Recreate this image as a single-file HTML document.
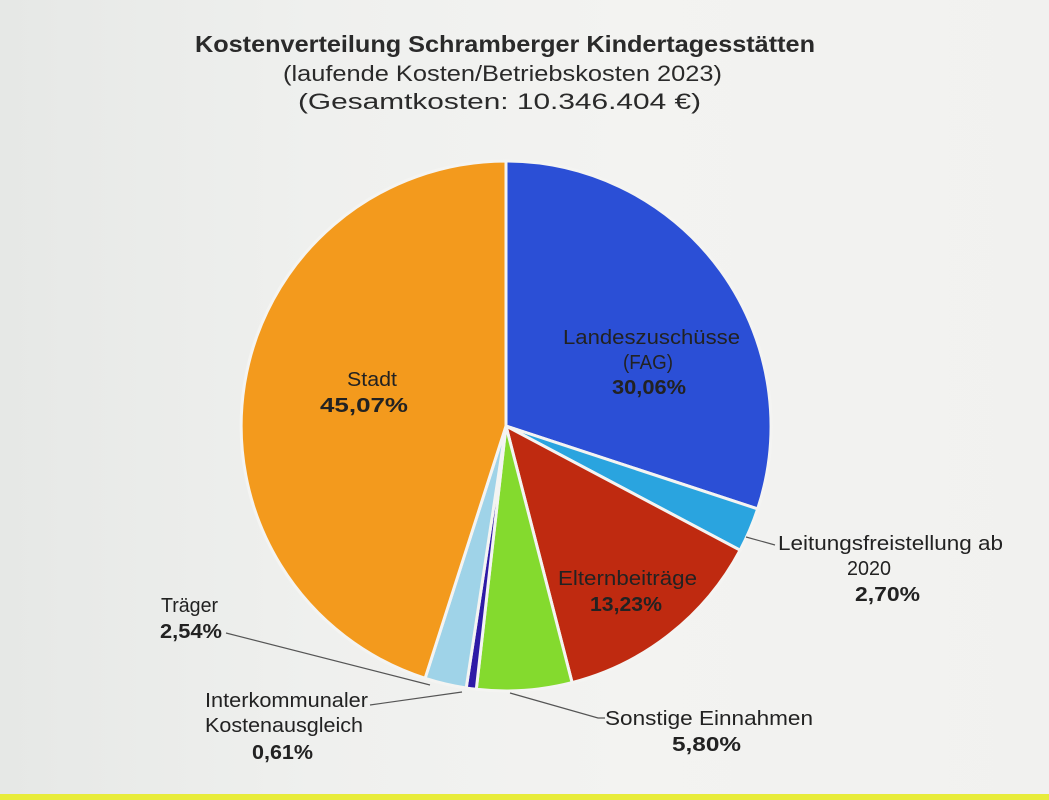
<!DOCTYPE html>
<html><head><meta charset="utf-8"><style>
html,body{margin:0;padding:0}
body{width:1049px;height:800px;overflow:hidden;background:linear-gradient(90deg,#e6e8e6 0%,#eff0ee 30%,#f3f3f1 60%,#f1f1ef 100%);position:relative;font-family:"Liberation Sans",sans-serif;color:#2a2a2a}
svg{position:absolute;left:0;top:0}
</style></head><body>
<svg width="1049" height="800" viewBox="0 0 1049 800">
<rect x="0" y="794" width="1049" height="6" fill="#e8ec3a"/>
<g font-family="Liberation Sans, sans-serif" fill="#2a2a2a">
<text x="195" y="52" font-size="23" font-weight="bold" textLength="620" lengthAdjust="spacingAndGlyphs">Kostenverteilung Schramberger Kindertagesstätten</text>
<text x="283" y="81" font-size="22" textLength="439" lengthAdjust="spacingAndGlyphs">(laufende Kosten/Betriebskosten 2023)</text>
<text x="298" y="109" font-size="22" textLength="403" lengthAdjust="spacingAndGlyphs">(Gesamtkosten: 10.346.404 €)</text>
</g>
<g stroke="#f4f4f2" stroke-width="3" stroke-linejoin="round">
<path d="M506,426 L506,161 A265,265 0 0 1 757.7,508.9 Z" fill="#2b4fd6"/>
<path d="M506,426 L757.7,508.9 A265,265 0 0 1 740.1,550.2 Z" fill="#2aa4df"/>
<path d="M506,426 L740.1,550.2 A265,265 0 0 1 572.1,682.6 Z" fill="#bf2a10"/>
<path d="M506,426 L572.1,682.6 A265,265 0 0 1 476.3,689.3 Z" fill="#84da2e"/>
<path d="M506,426 L476.3,689.3 A265,265 0 0 1 466.2,688 Z" fill="#2d1aa6"/>
<path d="M506,426 L466.2,688 A265,265 0 0 1 425.1,678.3 Z" fill="#9fd3e8"/>
<path d="M506,426 L425.1,678.3 A265,265 0 0 1 506,161 Z" fill="#f39a1d"/>
</g>
<g stroke="#555" stroke-width="1.2" fill="none">
<polyline points="746,537 775,545"/>
<polyline points="226,633 430,685"/>
<polyline points="370,705 462,692"/>
<polyline points="510,693 598,718 605,718"/>
</g>
<g font-family="Liberation Sans, sans-serif" fill="#222" font-size="20">
<text x="563" y="344" textLength="177" lengthAdjust="spacingAndGlyphs">Landeszuschüsse</text>
<text x="623" y="369" textLength="50" lengthAdjust="spacingAndGlyphs">(FAG)</text>
<text x="612" y="394" font-weight="bold" textLength="74" lengthAdjust="spacingAndGlyphs">30,06%</text>
<text x="347" y="386" textLength="50" lengthAdjust="spacingAndGlyphs">Stadt</text>
<text x="320" y="412" font-weight="bold" textLength="88" lengthAdjust="spacingAndGlyphs">45,07%</text>
<text x="558" y="585" textLength="139" lengthAdjust="spacingAndGlyphs">Elternbeiträge</text>
<text x="590" y="611" font-weight="bold" textLength="72" lengthAdjust="spacingAndGlyphs">13,23%</text>
<text x="778" y="550" textLength="225" lengthAdjust="spacingAndGlyphs">Leitungsfreistellung ab</text>
<text x="847" y="575" textLength="44" lengthAdjust="spacingAndGlyphs">2020</text>
<text x="855" y="601" font-weight="bold" textLength="65" lengthAdjust="spacingAndGlyphs">2,70%</text>
<text x="161" y="612" textLength="57" lengthAdjust="spacingAndGlyphs">Träger</text>
<text x="160" y="638" font-weight="bold" textLength="62" lengthAdjust="spacingAndGlyphs">2,54%</text>
<text x="205" y="707" textLength="163" lengthAdjust="spacingAndGlyphs">Interkommunaler</text>
<text x="205" y="732" textLength="158" lengthAdjust="spacingAndGlyphs">Kostenausgleich</text>
<text x="252" y="759" font-weight="bold" textLength="61" lengthAdjust="spacingAndGlyphs">0,61%</text>
<text x="605" y="725" textLength="208" lengthAdjust="spacingAndGlyphs">Sonstige Einnahmen</text>
<text x="672" y="751" font-weight="bold" textLength="69" lengthAdjust="spacingAndGlyphs">5,80%</text>
</g>
</svg>
</body></html>
